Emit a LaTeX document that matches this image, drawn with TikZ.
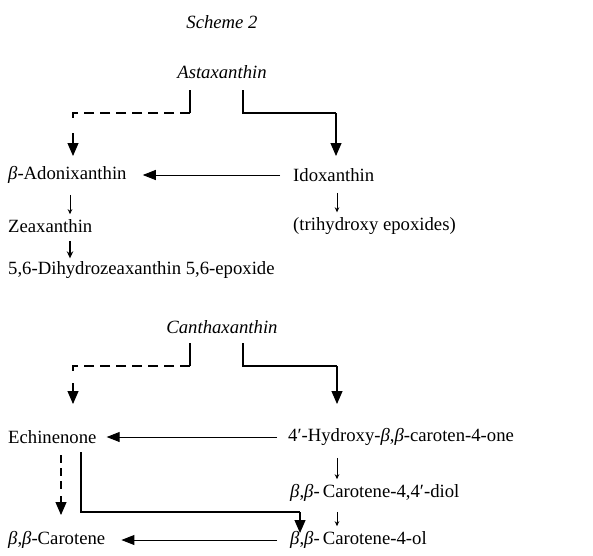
\documentclass[tikz,border=0pt]{standalone}
\usepackage{fontspec}
\setmainfont{Liberation Serif}
\usetikzlibrary{arrows.meta,calc}
\tikzset{
  lbl/.style={inner sep=0pt, anchor=west, font=\fontsize{18.7}{22}\selectfont},
  ctr/.style={inner sep=0pt, font=\fontsize{18.7}{22}\selectfont\itshape},
  main/.style={line width=1.1pt, -{Triangle[length=13pt,width=11pt]}},
  mainplain/.style={line width=1.1pt},
  dline/.style={line width=1.1pt, dash pattern=on 10pt off 6pt},
  horiz/.style={line width=0.9pt, -{Triangle[length=13pt,width=10pt]}},
  small/.style={line width=0.8pt, -{Stealth[length=5pt,width=4.5pt]}},
  smallb/.style={line width=1.1pt, -{Stealth[length=7pt,width=6.5pt]}},
}
\newcommand{\bb}{{\itshape β}}
\begin{document}
\begin{tikzpicture}[x=1pt,y=-1pt]
\useasboundingbox[fill=white] (0,0) rectangle (593,555);
% titles
\node[ctr] (title) at (222,22) {Scheme 2};
\node[ctr] (asta) at (222,72) {Astaxanthin};
\node[ctr] (cantha) at (222,327) {Canthaxanthin};
% upper scheme
\node[lbl] (adon) at (8,175) {\bb-Adonixanthin};
\node[lbl] (idox) at (293,175) {Idoxanthin};
\node[lbl] (zea) at (8,226) {Zeaxanthin};
\node[lbl] (trih) at (293,226) {(trihydroxy epoxides)};
\node[lbl] (dihy) at (8,270) {5,6-Dihydrozeaxanthin 5,6-epoxide};
% lower scheme
\node[lbl] (echi) at (8,437) {Echinenone};
\node[lbl] (hydr) at (288,437) {4′-Hydroxy-\bb,\bb-caroten-4-one};
\node[lbl] (diol) at (290,493) {\bb,\bb-\,Carotene-4,4′-diol};
\node[lbl] (carot) at (8,540) {\bb,\bb-Carotene};
\node[lbl] (ol) at (290,540) {\bb,\bb-\,Carotene-4-ol};
% upper connectors
\coordinate (aL) at (190,90);
\coordinate (aLc) at (190,113);
\coordinate (aR) at (243,90);
\coordinate (adonT) at (73,156);
\coordinate (idoxT) at (336,156);
\draw[mainplain] (aL) -- (aLc);
\draw[dline] (aLc) -| (73,122);
\draw[main] (73,133) -- (adonT);
\draw[mainplain] (aR) |- (336,113);
\draw[main] (336,113) -- (idoxT);
\draw[horiz] ($(idox.west)+(-13,0)$) coordinate (iw) -- ($(adon.east)+(16,0)$) coordinate (ae);
\draw[small] ($(adon.south west)+(62,11)$) coordinate (z1) -- ($(zea.north west)+(62,-5)$) coordinate (z2);
\draw[small] ($(idox.south west)+(44,11)$) coordinate (t1) -- ($(trih.north west)+(44,-5)$) coordinate (t2);
\draw[smallb] ($(zea.south west)+(62,8)$) coordinate (d1) -- ($(dihy.north west)+(62,-3)$) coordinate (d2);
% lower connectors
\coordinate (cL) at (190,343);
\coordinate (cLc) at (190,366);
\coordinate (cR) at (243,343);
\coordinate (echiT) at (73,404);
\coordinate (hydrT) at (337,404);
\draw[mainplain] (cL) -- (cLc);
\draw[dline] (cLc) -| (73,374);
\draw[main] (73,383) -- (echiT);
\draw[mainplain] (cR) |- (337,366);
\draw[main] (337,366) -- (hydrT);
\draw[horiz] ($(hydr.west)+(-11,0)$) coordinate (hw) -- ($(echi.east)+(10,0)$) coordinate (ee);
\draw[small] ($(hydr.south west)+(49,12)$) coordinate (h1) -- ($(diol.north west)+(47,-5)$) coordinate (h2);
\draw[small] ($(diol.south west)+(47,10)$) coordinate (o1) -- ($(ol.north west)+(47,-5)$) coordinate (o2);
\draw[horiz] ($(ol.west)+(-13,0)$) coordinate (ow) -- ($(carot.east)+(16,0)$) coordinate (ce);
% echinenone down
\coordinate (eD) at (61,455);
\coordinate (eS) at (81,452);
\coordinate (olT) at (300,533);
\draw[dline, dash pattern=on 8pt off 5pt] (eD) -- (61,493);
\draw[main] (61,496) -- (61,515);
\draw[mainplain] (eS) |- (300,512);
\draw[main] (300,512) -- (olT);
\end{tikzpicture}
\end{document}
